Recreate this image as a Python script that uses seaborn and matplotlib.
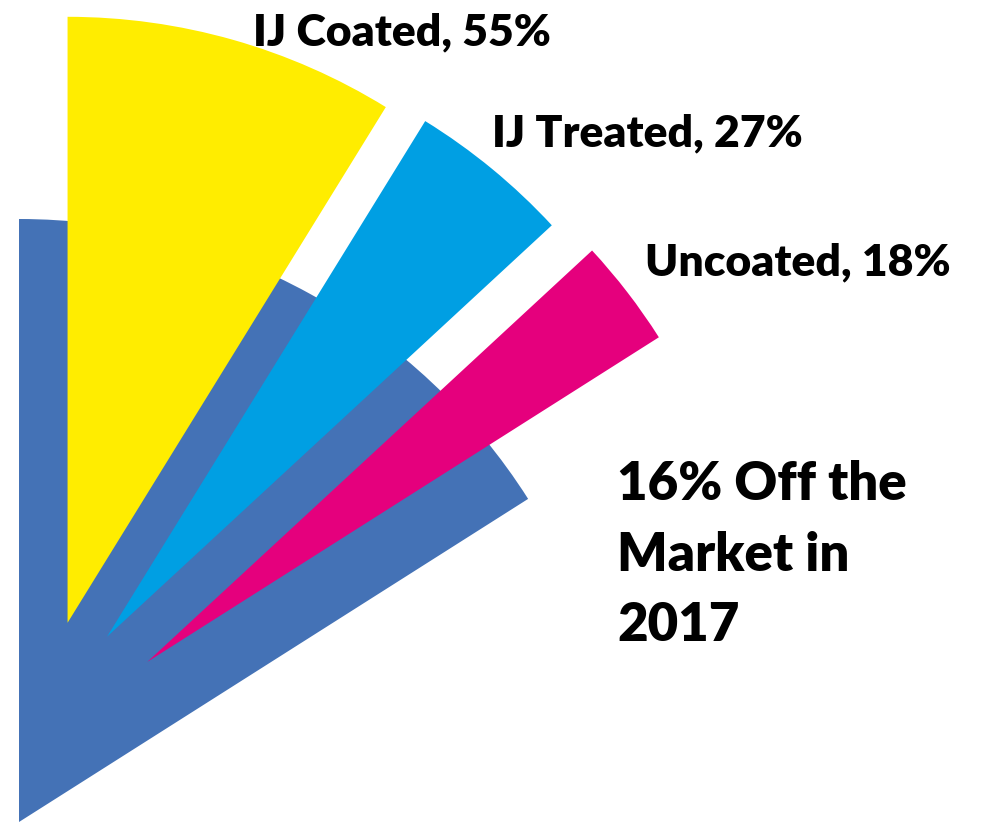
import numpy as np
import matplotlib.pyplot as plt
from matplotlib.patches import Wedge
import seaborn as sns

# share of the market gone in 2017, and how that share splits
off_market = 16
segments = ['IJ Coated', 'IJ Treated', 'Uncoated']
shares = [55, 27, 18]

sns.set_theme(style="white")
plt.rcParams['font.family'] = ['Lato', 'DejaVu Sans']

base_color = '#4472B6'
colors = ['#FFED00', '#009FE3', '#E5007D']
explode = 0.34
explode_dirs = [76.3, 64.6, 51.3]

fig = plt.figure(figsize=(9.81, 8.22), dpi=100)
ax = fig.add_axes([0, 0, 1, 1])
scale = 603  # pixels per unit radius
ax.set_xlim(-19 / scale, (981 - 19) / scale)
ax.set_ylim(0, 822 / scale)
ax.set_aspect('equal')
ax.axis('off')

top = 90
span = off_market / 100 * 360
ax.add_patch(Wedge((0, 0), 1, top - span, top, color=base_color, lw=0))

start = top
for share, c, d in zip(shares, colors, explode_dirs):
    w = span * share / 100
    cx = explode * np.cos(np.radians(d))
    cy = explode * np.sin(np.radians(d))
    ax.add_patch(Wedge((cx, cy), 1.005, start - w, start, color=c, lw=0))
    start -= w

# labels (pixel positions of left edge / baseline)
label_pos = [(253, 45), (492, 146), (645, 275)]
for name, share, (px, py) in zip(segments, shares, label_pos):
    fig.text(px / 981, 1 - py / 822, f'{name}, {share}%', fontsize=32,
             fontweight='heavy', color='black', ha='left', va='baseline')

fig.text(617 / 981, 1 - 460 / 822, f'{off_market}% Off the\nMarket in\n2017',
         fontsize=38, fontweight='heavy', color='black', ha='left', va='top',
         linespacing=1.54)

fig.savefig('out.png', dpi=100)
